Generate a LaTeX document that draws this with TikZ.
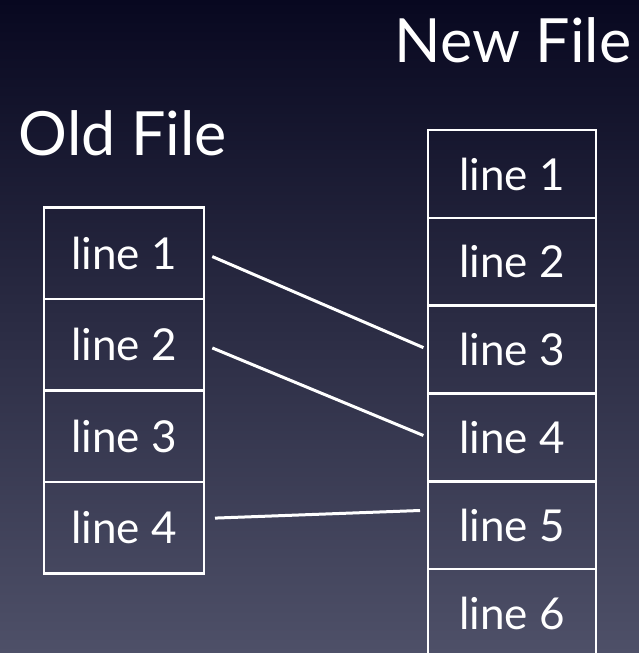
\documentclass[tikz,border=0pt]{standalone}
\usepackage{fontspec}
\setmainfont{Lato}
\usetikzlibrary{positioning}
\definecolor{bgtop}{RGB}{8,8,32}
\definecolor{bgbottom}{RGB}{78,80,104}
\tikzset{
  oldline/.style={draw=white, line width=2.5pt, outer sep=0pt, minimum width=160pt,
    minimum height=91.5pt, inner sep=0pt, text=white, font=\fontsize{44}{44}\selectfont},
  newline/.style={oldline, minimum width=168pt, minimum height=87.8pt},
  title/.style={text=white, font=\fontsize{61}{61}\selectfont},
  link/.style={draw=white, line width=3pt}
}
\begin{document}
\begin{tikzpicture}[x=1pt,y=-1pt]
\useasboundingbox (0,0) rectangle (639,653);
\clip (0,0) rectangle (639,653);
\shade[top color=bgtop, bottom color=bgbottom] (0,0) rectangle (639,653);
% old file
\node[title] (oldtitle) at (123,133) {Old File};
\node[oldline] (o1) at (124,253) {line 1};
\node[oldline, below=0pt of o1] (o2) {line 2};
\node[oldline, below=0pt of o2] (o3) {line 3};
\node[oldline, below=0pt of o3] (o4) {line 4};
% new file
\node[title] (newtitle) at (513,40) {New File};
\node[newline] (n1) at (512,174) {line 1};
\node[newline, below=0pt of n1] (n2) {line 2};
\node[newline, below=0pt of n2] (n3) {line 3};
\node[newline, below=0pt of n3] (n4) {line 4};
\node[newline, below=0pt of n4] (n5) {line 5};
\node[newline, below=0pt of n5] (n6) {line 6};
% matches
\draw[link, shorten <=9pt, shorten >=5pt] (o1.east) -- (n3.west);
\draw[link, shorten <=9pt, shorten >=5pt] (o2.east) -- (n4.west);
\draw[link, shorten <=11pt, shorten >=8pt] ([yshift=9pt]o4.east) -- ([yshift=15pt]n5.west);
\end{tikzpicture}
\end{document}
